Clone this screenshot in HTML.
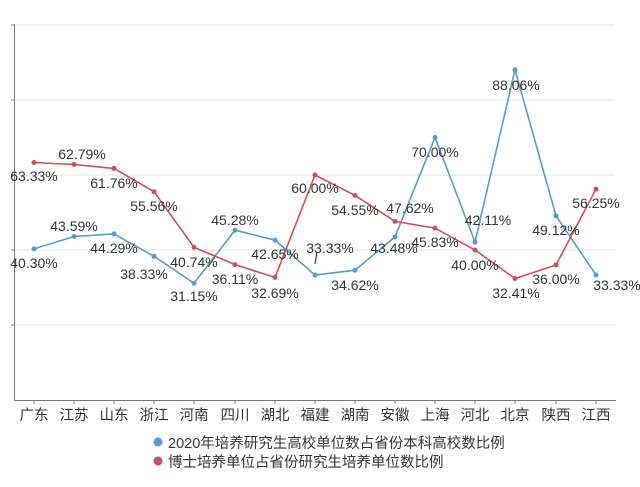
<!DOCTYPE html>
<html><head><meta charset="utf-8"><style>
body{margin:0;background:#fff;}
svg text{font-family:"Liberation Sans","Noto Sans CJK SC",sans-serif;fill:#333;}
</style></head><body>
<svg width="640" height="482" xmlns="http://www.w3.org/2000/svg">
<g stroke="#e6e6ea" stroke-width="1">
<line x1="14" y1="25" x2="615" y2="25"/><line x1="14" y1="100" x2="615" y2="100"/>
<line x1="14" y1="175" x2="615" y2="175"/><line x1="14" y1="250" x2="615" y2="250"/>
<line x1="14" y1="325" x2="615" y2="325"/>
</g>
<g stroke="#777" stroke-width="1">
<line x1="14.5" y1="24" x2="14.5" y2="400"/><line x1="14" y1="400.5" x2="616" y2="400.5"/>
<line x1="11" y1="25" x2="14" y2="25"/><line x1="11" y1="100" x2="14" y2="100"/><line x1="11" y1="175" x2="14" y2="175"/><line x1="11" y1="250" x2="14" y2="250"/><line x1="11" y1="325" x2="14" y2="325"/>
<line x1="34" y1="400" x2="34" y2="404"/><line x1="74" y1="400" x2="74" y2="404"/><line x1="114" y1="400" x2="114" y2="404"/><line x1="154" y1="400" x2="154" y2="404"/><line x1="194" y1="400" x2="194" y2="404"/><line x1="235" y1="400" x2="235" y2="404"/><line x1="275" y1="400" x2="275" y2="404"/><line x1="315" y1="400" x2="315" y2="404"/><line x1="355" y1="400" x2="355" y2="404"/><line x1="395" y1="400" x2="395" y2="404"/><line x1="435" y1="400" x2="435" y2="404"/><line x1="475" y1="400" x2="475" y2="404"/><line x1="515" y1="400" x2="515" y2="404"/><line x1="556" y1="400" x2="556" y2="404"/><line x1="596" y1="400" x2="596" y2="404"/>
</g>
<polyline fill="none" stroke="#5b9bbd" stroke-width="1.6" points="34,248.9 74,236.5 114,233.9 154,256.3 194,283.2 235,230.2 275,240.1 315,275.0 355,270.2 395,236.9 435,137.5 475,242.1 515,69.8 556,215.8 596,275.0"/>
<polyline fill="none" stroke="#c9505a" stroke-width="1.6" points="34,162.5 74,164.5 114,168.4 154,191.7 194,247.2 235,264.6 275,277.4 315,175.0 355,195.4 395,221.4 435,228.1 475,250.0 515,278.5 556,265.0 596,189.1"/>
<g fill="#5b9bbd"><circle cx="34" cy="248.9" r="2.5"/><circle cx="74" cy="236.5" r="2.5"/><circle cx="114" cy="233.9" r="2.5"/><circle cx="154" cy="256.3" r="2.5"/><circle cx="194" cy="283.2" r="2.5"/><circle cx="235" cy="230.2" r="2.5"/><circle cx="275" cy="240.1" r="2.5"/><circle cx="315" cy="275.0" r="2.5"/><circle cx="355" cy="270.2" r="2.5"/><circle cx="395" cy="236.9" r="2.5"/><circle cx="435" cy="137.5" r="2.5"/><circle cx="475" cy="242.1" r="2.5"/><circle cx="515" cy="69.8" r="2.5"/><circle cx="556" cy="215.8" r="2.5"/><circle cx="596" cy="275.0" r="2.5"/></g>
<g fill="#c9505a"><circle cx="34" cy="162.5" r="2.5"/><circle cx="74" cy="164.5" r="2.5"/><circle cx="114" cy="168.4" r="2.5"/><circle cx="154" cy="191.7" r="2.5"/><circle cx="194" cy="247.2" r="2.5"/><circle cx="235" cy="264.6" r="2.5"/><circle cx="275" cy="277.4" r="2.5"/><circle cx="315" cy="175.0" r="2.5"/><circle cx="355" cy="195.4" r="2.5"/><circle cx="395" cy="221.4" r="2.5"/><circle cx="435" cy="228.1" r="2.5"/><circle cx="475" cy="250.0" r="2.5"/><circle cx="515" cy="278.5" r="2.5"/><circle cx="556" cy="265.0" r="2.5"/><circle cx="596" cy="189.1" r="2.5"/></g>
<line x1="317" y1="252" x2="315" y2="264" stroke="#333" stroke-width="1.2"/>
<g font-size="14" text-anchor="middle">
<text x="34" y="181">63.33%</text><text x="82" y="159">62.79%</text><text x="114" y="188">61.76%</text><text x="154" y="211">55.56%</text><text x="194" y="267">40.74%</text><text x="235" y="284">36.11%</text><text x="275" y="298">32.69%</text><text x="315" y="193">60.00%</text><text x="355" y="215">54.55%</text><text x="410" y="213">47.62%</text><text x="435" y="247">45.83%</text><text x="475" y="270">40.00%</text><text x="516" y="298">32.41%</text><text x="556" y="284">36.00%</text><text x="596" y="208">56.25%</text>
<text x="34" y="268">40.30%</text><text x="74" y="231">43.59%</text><text x="114" y="253">44.29%</text><text x="144" y="279">38.33%</text><text x="194" y="301">31.15%</text><text x="235" y="225">45.28%</text><text x="275" y="259">42.65%</text><text x="330" y="253">33.33%</text><text x="355" y="290">34.62%</text><text x="394" y="253">43.48%</text><text x="435" y="157">70.00%</text><text x="488" y="225">42.11%</text><text x="516" y="90">88.06%</text><text x="556" y="235">49.12%</text><text x="617" y="290">33.33%</text>
</g>
<g font-size="14.5" text-anchor="middle">
<text x="34" y="420">广东</text><text x="74" y="420">江苏</text><text x="114" y="420">山东</text><text x="154" y="420">浙江</text><text x="194" y="420">河南</text><text x="235" y="420">四川</text><text x="275" y="420">湖北</text><text x="315" y="420">福建</text><text x="355" y="420">湖南</text><text x="395" y="420">安徽</text><text x="435" y="420">上海</text><text x="475" y="420">河北</text><text x="515" y="420">北京</text><text x="556" y="420">陕西</text><text x="596" y="420">江西</text>
</g>
<circle cx="158" cy="442" r="4.5" fill="#5b9bd5"/>
<circle cx="158" cy="461" r="4.5" fill="#c9505a"/>
<text x="168" y="448" font-size="14.5">2020年培养研究生高校单位数占省份本科高校数比例</text>
<text x="168" y="467" font-size="14.5">博士培养单位占省份研究生培养单位数比例</text>
</svg>
</body></html>
